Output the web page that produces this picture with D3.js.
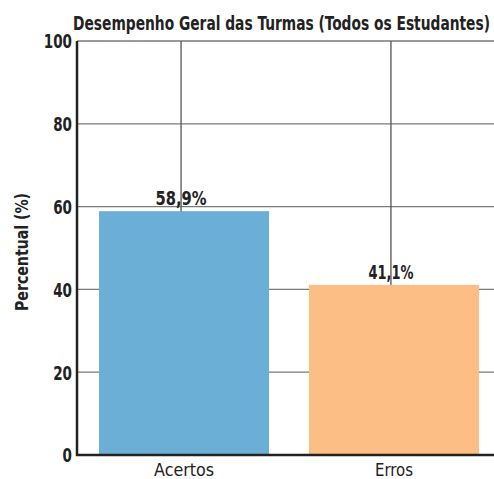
<!DOCTYPE html>
<html>
<head>
<meta charset="utf-8">
<script src="https://cdn.jsdelivr.net/npm/d3@7"></script>
<style>
  body { margin: 0; background: #fff; }
  text { font-family: "DejaVu Sans", sans-serif; font-stretch: condensed; fill: #222; }
</style>
</head>
<body>
<div id="chart"></div>
<script>
var categories = ["Acertos", "Erros"];
var values = [58.9, 41.1];
var valueLabels = ["58,9%", "41,1%"];
var barColors = ["#6baed6", "#fdbe85"];
var yTicks = [0, 20, 40, 60, 80, 100];

var width = 494, height = 479;
var padding = { top: 41, right: -7, bottom: 24, left: 77 };

var svg = d3.select("#chart")
    .append("svg")
    .attr("width", width)
    .attr("height", height);

var xScale = d3.scaleBand()
    .domain(categories)
    .range([padding.left, width - padding.right])
    .paddingInner(0.19)
    .paddingOuter(0.105);

var yScale = d3.scaleLinear()
    .domain([0, 100])
    .range([height - padding.bottom, padding.top]);

// grid lines
svg.append("g")
    .selectAll("line.h")
    .data(yTicks)
    .enter()
    .append("line")
    .attr("x1", padding.left)
    .attr("x2", width)
    .attr("y1", function(d) { return yScale(d); })
    .attr("y2", function(d) { return yScale(d); })
    .attr("stroke", "#7a7a7a")
    .attr("stroke-width", 1.3);

svg.append("g")
    .selectAll("line.v")
    .data(categories)
    .enter()
    .append("line")
    .attr("x1", function(d) { return xScale(d) + xScale.bandwidth() / 2 - 3; })
    .attr("x2", function(d) { return xScale(d) + xScale.bandwidth() / 2 - 3; })
    .attr("y1", yScale(100))
    .attr("y2", yScale(0))
    .attr("stroke", "#555")
    .attr("stroke-width", 1.3);

// bars
svg.append("g")
    .selectAll("rect")
    .data(values)
    .enter()
    .append("rect")
    .attr("x", function(d, i) { return xScale(categories[i]); })
    .attr("y", function(d) { return yScale(d); })
    .attr("width", xScale.bandwidth())
    .attr("height", function(d) { return yScale(0) - yScale(d); })
    .attr("fill", function(d, i) { return barColors[i]; });

// value labels
svg.append("g")
    .selectAll("text")
    .data(values)
    .enter()
    .append("text")
    .attr("x", function(d, i) { return xScale(categories[i]) + xScale.bandwidth() / 2 - 3; })
    .attr("y", function(d) { return yScale(d) - 6; })
    .attr("text-anchor", "middle")
    .attr("font-size", 20)
    .attr("font-weight", "bold")
    .attr("textLength", function(d, i) { return i == 0 ? 51 : 45; })
    .attr("lengthAdjust", "spacingAndGlyphs")
    .text(function(d, i) { return valueLabels[i]; });

// axes
var yAxis = d3.axisLeft(yScale).tickValues(yTicks).tickSize(0).tickPadding(5);
var gy = svg.append("g")
    .attr("transform", "translate(" + padding.left + ",0)")
    .call(yAxis);
gy.select(".domain").remove();
gy.selectAll("text")
    .attr("font-size", 19)
    .attr("font-weight", "bold")
    .attr("dy", "0.36em")
    .attr("textLength", function(d) { return String(d).length * 9.4; })
    .attr("lengthAdjust", "spacingAndGlyphs")
    .style("font-family", "'DejaVu Sans', sans-serif")
    .attr("fill", "#222");

var xAxis = d3.axisBottom(xScale).tickSize(0).tickPadding(8);
var gx = svg.append("g")
    .attr("transform", "translate(0," + yScale(0) + ")")
    .call(xAxis);
gx.select(".domain").remove();
gx.selectAll("text")
    .attr("font-size", 18)
    .attr("dy", "0.71em")
    .attr("textLength", function(d) { return d == "Acertos" ? 60 : 38; })
    .attr("lengthAdjust", "spacingAndGlyphs")
    .style("font-family", "'DejaVu Sans', sans-serif")
    .attr("fill", "#222");

// spines
svg.append("line")
    .attr("x1", padding.left).attr("x2", padding.left)
    .attr("y1", yScale(100)).attr("y2", yScale(0) + 1)
    .attr("stroke", "#222").attr("stroke-width", 2.5);
svg.append("line")
    .attr("x1", padding.left - 1).attr("x2", width)
    .attr("y1", yScale(0)).attr("y2", yScale(0))
    .attr("stroke", "#222").attr("stroke-width", 2.5);

// title
svg.append("text")
    .attr("x", 73)
    .attr("y", 30)
    .attr("font-size", 19)
    .attr("font-weight", "bold")
    .attr("textLength", 417)
    .attr("lengthAdjust", "spacingAndGlyphs")
    .text("Desempenho Geral das Turmas (Todos os Estudantes)");

// y label
svg.append("text")
    .attr("transform", "translate(28,252) rotate(-90)")
    .attr("text-anchor", "middle")
    .attr("font-size", 18)
    .attr("font-weight", "bold")
    .attr("textLength", 118)
    .attr("lengthAdjust", "spacingAndGlyphs")
    .text("Percentual (%)");
</script>
</body>
</html>
